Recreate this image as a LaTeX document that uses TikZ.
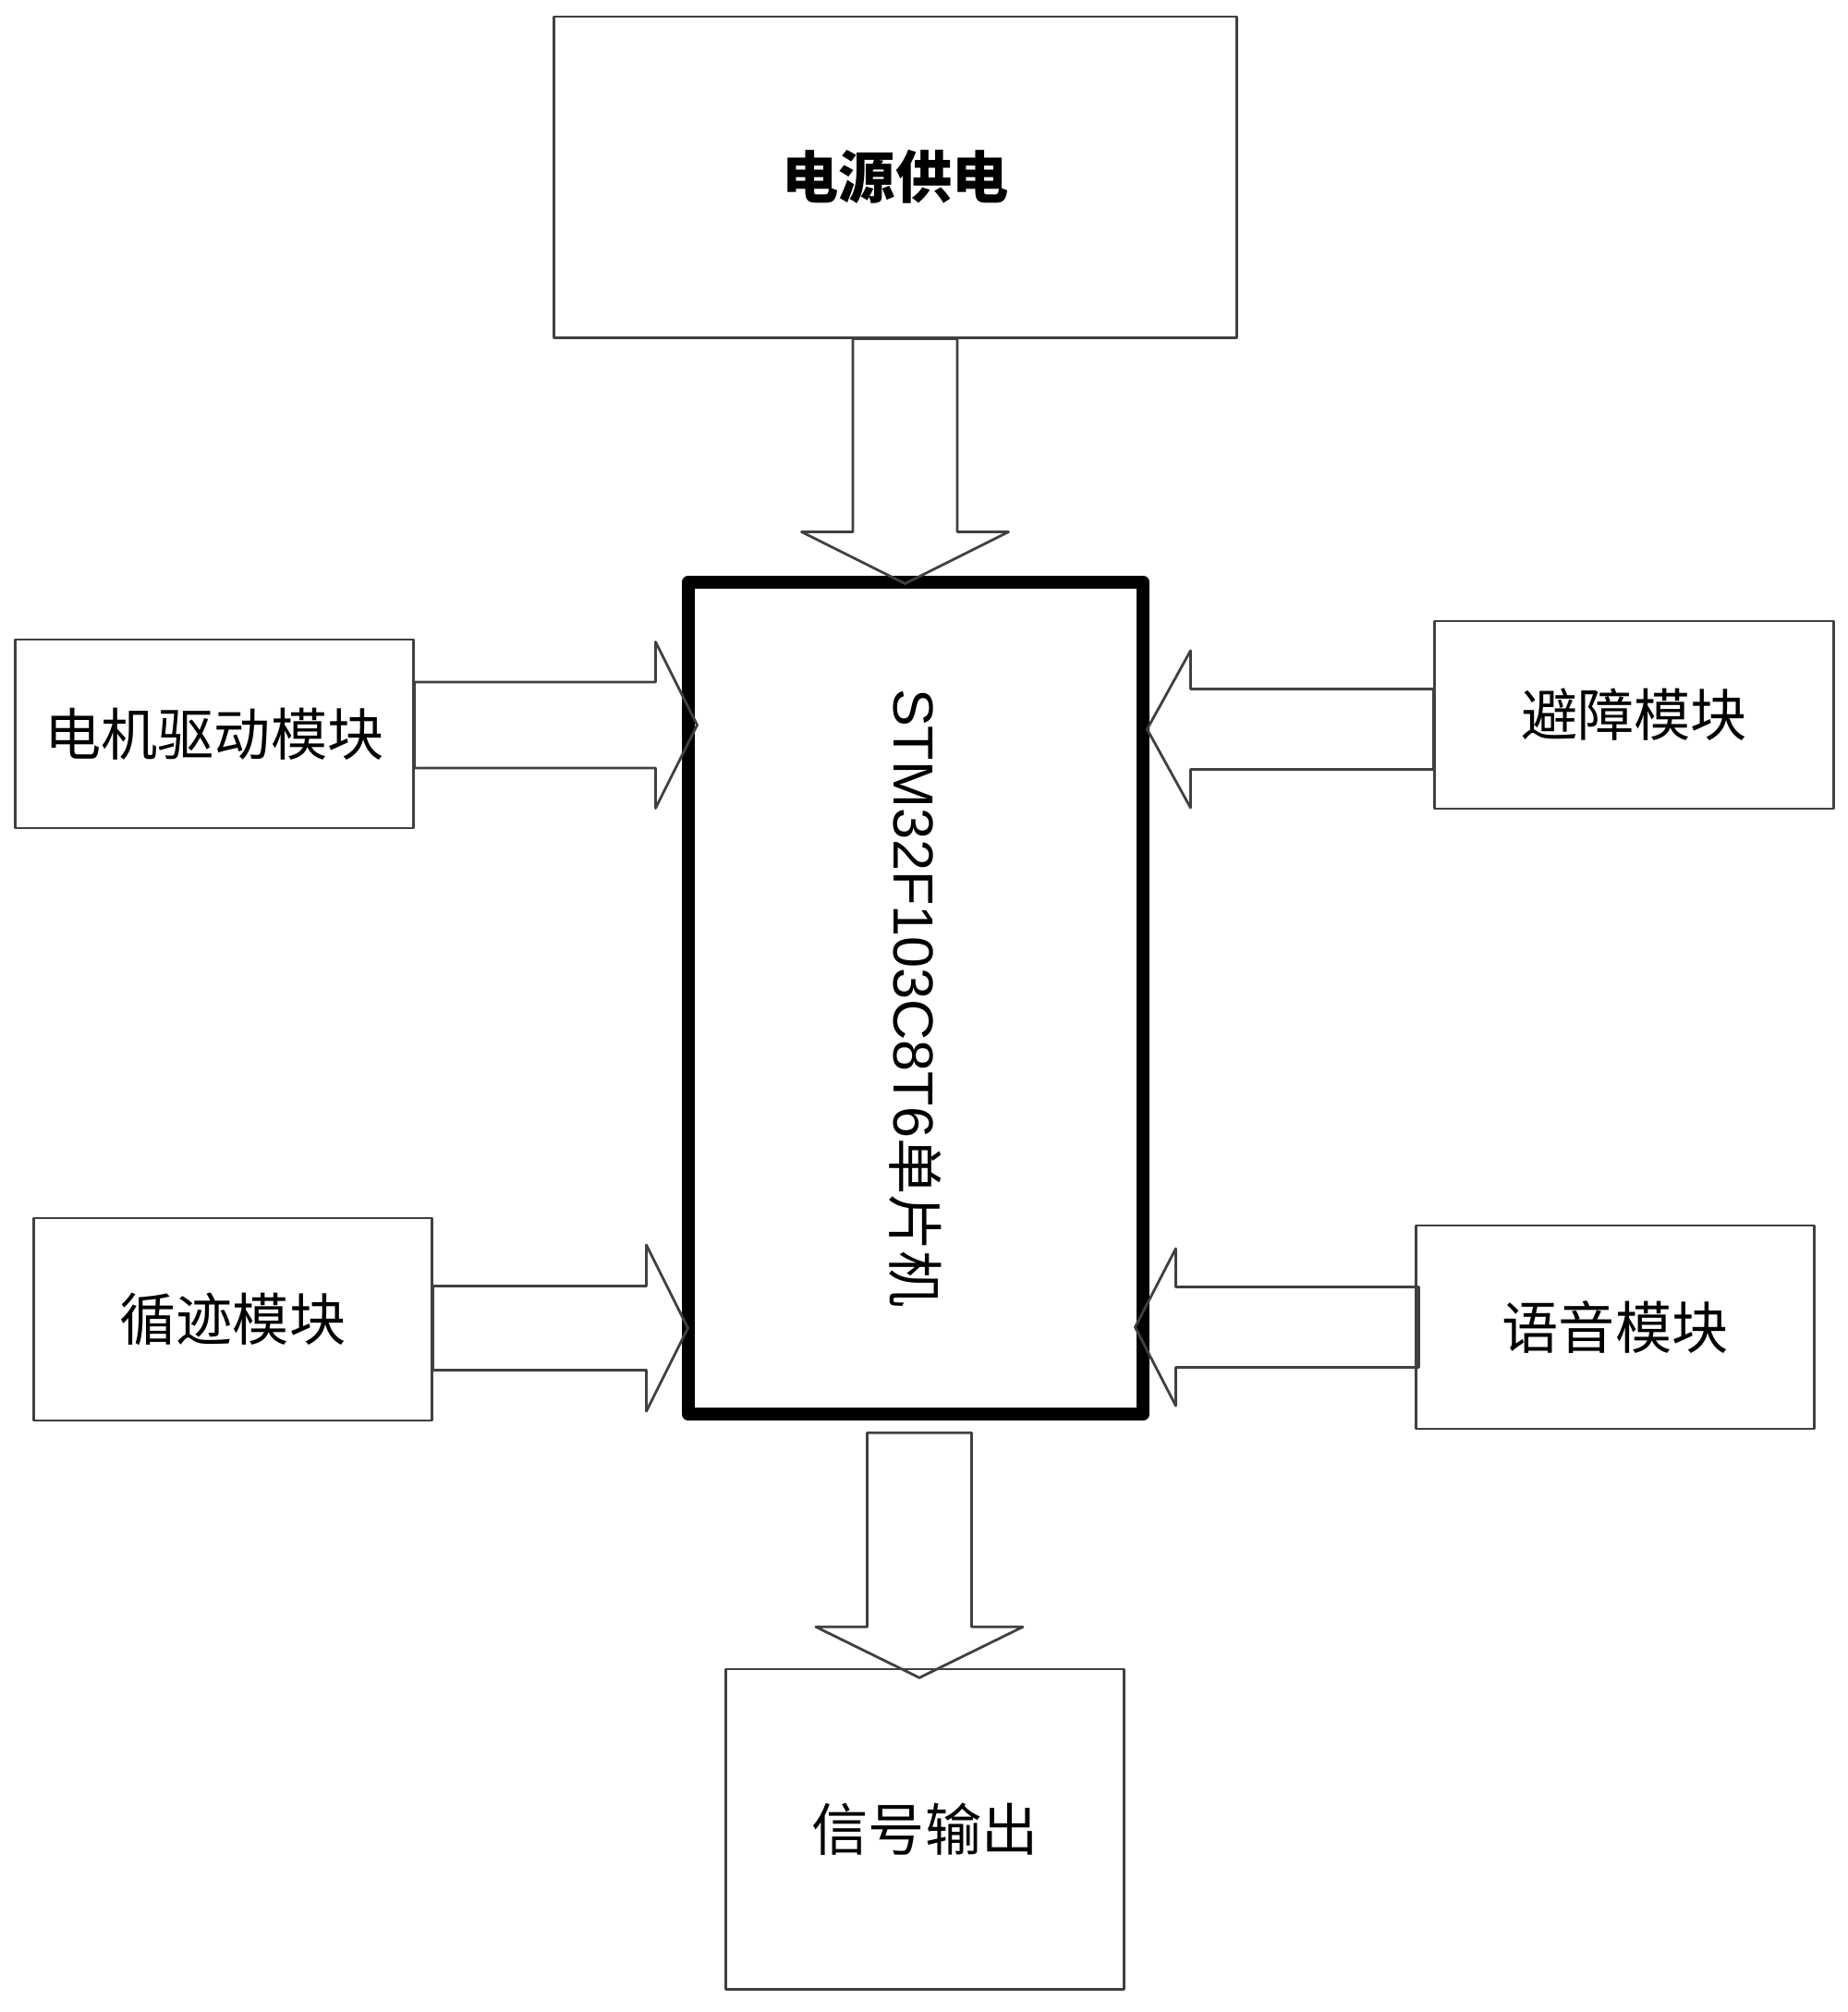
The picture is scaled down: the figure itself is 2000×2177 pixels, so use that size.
\documentclass[tikz,border=0pt]{standalone}
\usepackage{fontspec}
\setmainfont{Liberation Sans}
\newfontfamily\cjk{Noto Sans CJK SC}
\usetikzlibrary{calc}
\tikzset{
  box/.style={draw=black!75, line width=0.8pt, line join=round, inner sep=0pt, font=\cjk\fontsize{17.4}{20}\selectfont},
  mcubox/.style={draw=black, line width=4pt, line join=round, inner sep=0pt, minimum width=4.92cm, minimum height=9cm},
  blk/.style={draw=black!75, line width=0.8pt, line join=round},
}
% hollow block arrow: tail, angle, length, shaft half width, head half width, head length
\newcommand{\blkarrow}[6]{%
  \draw[blk, shift={(#1)}, rotate=#2] (0,-#4) -- ({#3-#6},-#4) -- ({#3-#6},-#5) -- (#3,0)
    -- ({#3-#6},#5) -- ({#3-#6},#4) -- (0,#4) -- cycle;}

\begin{document}
\begin{tikzpicture}[x=0.01cm, y=-0.01cm]
  \useasboundingbox (0,0) rectangle (2000,2177);
  % blocks
  \node[box, minimum width=7.38cm, minimum height=3.47cm] (pow) at (969,191.5) {\bfseries 电源供电};
  \node[mcubox] (mcu) at (991,1080) {};
  \node[rotate=-90, font=\fontsize{17.4}{20}\selectfont] (mcutxt) at (mcu.center) {STM32F103C8T6{\cjk 单片机}};
  \node[box, minimum width=4.30cm, minimum height=2.04cm] (motor) at (232,794) {电机驱动模块};
  \node[box, minimum width=4.31cm, minimum height=2.03cm] (obst) at (1768.5,773.5) {避障模块};
  \node[box, minimum width=4.30cm, minimum height=2.19cm] (track) at (252,1427.5) {循迹模块};
  \node[box, minimum width=4.30cm, minimum height=2.20cm] (voice) at (1748,1436) {语音模块};
  \node[box, minimum width=4.30cm, minimum height=3.46cm] (sig) at (1001,1979) {信号输出};
  % arrow tails
  \coordinate (tpow) at ($(pow.south)+(10.5,0)$);
  \coordinate (tmotor) at ($(motor.east)+(0,-9.5)$);
  \coordinate (tobst) at ($(obst.west)+(0,15.5)$);
  \coordinate (ttrack) at ($(track.east)+(0,9.5)$);
  \coordinate (tvoice) at ($(voice.west)+(4,0)$);
  \coordinate (tmcu) at ($(mcu.south)+(4,13)$);
  % arrows
  \blkarrow{tpow}{-90}{265}{56.5}{112}{56}
  \blkarrow{tmotor}{0}{306}{46.5}{90}{45}
  \blkarrow{tobst}{180}{310}{43.5}{85}{47}
  \blkarrow{ttrack}{0}{276}{45.5}{90}{45}
  \blkarrow{tvoice}{180}{307}{43.5}{85}{44}
  \blkarrow{tmcu}{-90}{265}{56.5}{112}{55}
\end{tikzpicture}
\end{document}
